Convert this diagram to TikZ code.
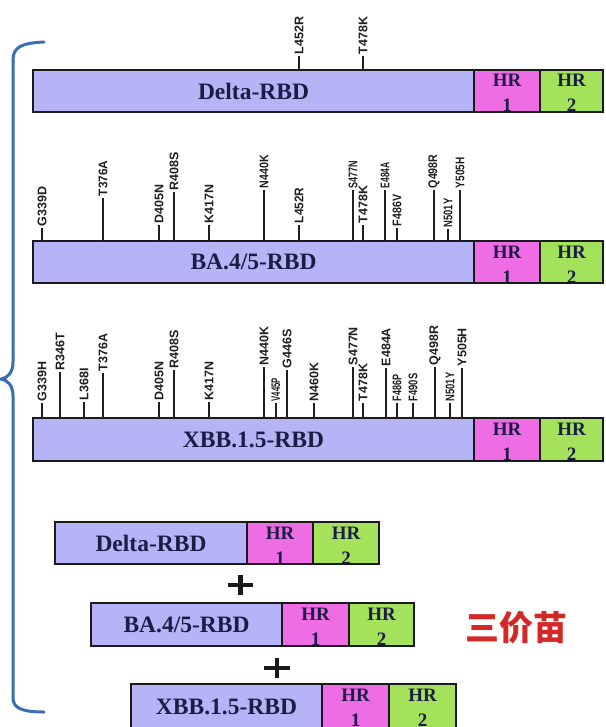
\documentclass[tikz,border=0pt]{standalone}
\usepackage{fontspec}
\setmainfont{Liberation Serif}
\newfontfamily\labelfont{Liberation Sans}
\newfontfamily\cjkfont{Noto Sans CJK SC}
\definecolor{rbdfill}{RGB}{182,180,246}
\definecolor{hronefill}{RGB}{238,108,228}
\definecolor{hrtwofill}{RGB}{164,226,92}
\definecolor{navytext}{RGB}{28,28,70}
\definecolor{bracecol}{RGB}{58,110,178}
\definecolor{redtext}{RGB}{212,40,40}
\definecolor{barborder}{RGB}{26,26,30}
\tikzset{
  barline/.style={draw=barborder, line width=2.4pt},
  rbdtext/.style={font=\bfseries\fontsize{23.5}{26}\selectfont, text=navytext, inner sep=0pt},
  hrtext/.style={font=\bfseries\fontsize{19}{19}\selectfont, text=navytext, inner sep=0pt, anchor=base},
  mutlabel/.style={rotate=90, anchor=west, inner sep=1.6pt, font=\labelfont\bfseries\fontsize{12.5}{13}\selectfont, text=black!88},
  tickline/.style={draw=black!88, line width=2pt},
  bracestyle/.style={draw=bracecol, line width=3pt, line cap=round},
  plusline/.style={draw=black!90, line width=4.6pt}
}
\newcommand\construct[8]{%
  \fill[rbdfill] (#2,#6) rectangle (#3,#7);
  \fill[hronefill] (#3,#6) rectangle (#4,#7);
  \fill[hrtwofill] (#4,#6) rectangle (#5,#7);
  \begin{scope}
    \clip (#3,#6) rectangle (#4,#7);
    \node[hrtext] (#1-hra) at ({(#3+#4)/2},#6+17) {HR};
    \node[hrtext] (#1-hrb) at ({(#3+#4)/2},#6+42) {1};
  \end{scope}
  \begin{scope}
    \clip (#4,#6) rectangle (#5,#7);
    \node[hrtext] (#1-hrc) at ({(#4+#5)/2},#6+17) {HR};
    \node[hrtext] (#1-hrd) at ({(#4+#5)/2},#6+42) {2};
  \end{scope}
  \draw[barline] (#2,#6) rectangle (#5,#7) (#3,#6) -- (#3,#7) (#4,#6) -- (#4,#7);
  \node[rbdtext] (#1) at ({(#2+#3)/2},{(#6+#7)/2}) {#8};
}
\newcommand\mut[6]{%
  \coordinate (#1-#5-foot) at (#2,#3);
  \node[mutlabel] (#1-#5) at (#2,#4) {\scalebox{#6}[1]{#5}};
  \draw[tickline] (#1-#5-foot) -- (#1-#5.west);
}
\begin{document}
\begin{tikzpicture}[x=1pt,y=-1pt]
\useasboundingbox[fill=white] (0,0) rectangle (605,727);

% brace
\draw[bracestyle] (44,42) .. controls (22,43) and (13,47) .. (13,60) -- (13,362)
  .. controls (13,372) and (8,378) .. (1,379) .. controls (8,380) and (13,386) .. (13,396)
  -- (13,698) .. controls (13,708) and (22,712) .. (44,712);

% large constructs
\construct{bA}{33}{474}{540}{603}{70}{112}{Delta-RBD}
\construct{bB}{33}{474}{540}{603}{241}{283}{BA.4/5-RBD}
\construct{bC}{33}{474}{540}{603}{418}{461}{XBB.1.5-RBD}

% mutations bar 1
\mut{mA}{299}{70}{56}{L452R}{1}
\mut{mA}{363}{70}{56}{T478K}{1}

% mutations bar 2
\mut{mB}{42}{241}{228}{G339D}{1}
\mut{mB}{103}{241}{198}{T376A}{0.95}
\mut{mB}{159}{241}{225}{D405N}{1}
\mut{mB}{174}{241}{192}{R408S}{1}
\mut{mB}{209}{241}{225}{K417N}{1}
\mut{mB}{264}{241}{190}{N440K}{0.85}
\mut{mB}{299}{241}{225}{L452R}{0.95}
\mut{mB}{353}{241}{190}{S477N}{0.72}
\mut{mB}{363}{241}{225}{T478K}{1}
\mut{mB}{385}{241}{190}{E484A}{0.68}
\mut{mB}{397}{241}{228}{F486V}{0.85}
\mut{mB}{434}{241}{190}{Q498R}{0.85}
\mut{mB}{448}{241}{229}{N501Y}{0.75}
\mut{mB}{460}{241}{190}{Y505H}{0.8}

% mutations bar 3
\mut{mC}{42}{418}{403}{G339H}{1}
\mut{mC}{60}{418}{372}{R346T}{1}
\mut{mC}{84}{418}{402}{L368I}{1}
\mut{mC}{103}{418}{373}{T376A}{1}
\mut{mC}{159}{418}{402}{D405N}{1}
\mut{mC}{174}{418}{370}{R408S}{1}
\mut{mC}{209}{418}{402}{K417N}{1}
\mut{mC}{264}{418}{367}{N440K}{1}
\mut{mC}{276}{418}{403}{V445P}{0.62}
\mut{mC}{287}{418}{370}{G446S}{1}
\mut{mC}{314}{418}{403}{N460K}{1}
\mut{mC}{353}{418}{367}{S477N}{1}
\mut{mC}{363}{418}{403}{T478K}{1}
\mut{mC}{386}{418}{368}{E484A}{1}
\mut{mC}{397}{418}{403}{F486P}{0.72}
\mut{mC}{413}{418}{403}{F490S}{0.75}
\mut{mC}{435}{418}{367}{Q498R}{1}
\mut{mC}{450}{418}{403}{N501Y}{0.75}
\mut{mC}{462}{418}{368}{Y505H}{1}

% small constructs
\construct{sA}{55}{247}{313}{379}{522}{564}{Delta-RBD}
\construct{sB}{91}{282}{349}{414}{603}{646}{BA.4/5-RBD}
\construct{sC}{131}{322}{389}{456}{684}{729}{XBB.1.5-RBD}

% plus signs
\draw[plusline] (228,585) -- (253,585) (240.5,575) -- (240.5,595);
\draw[plusline] (264,668) -- (290,668) (277,658) -- (277,678);

% label
\node[font=\cjkfont\bfseries\fontsize{34}{36}\selectfont, text=redtext, inner sep=0pt] (tri) at (516,628) {三价苗};
\end{tikzpicture}
\end{document}
